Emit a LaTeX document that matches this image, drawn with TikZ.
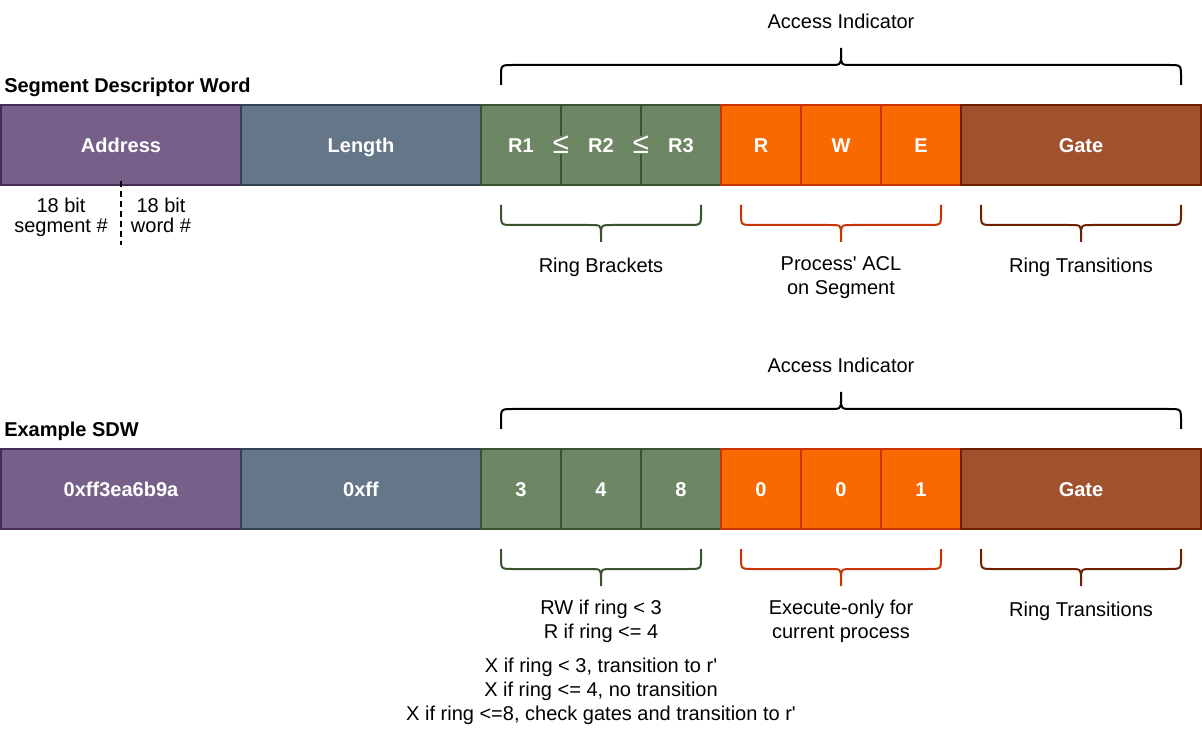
\documentclass[tikz,border=0pt]{standalone}
\usepackage{fontspec}
\setmainfont{Liberation Sans}
\usetikzlibrary{positioning}

\definecolor{addrfill}{HTML}{76608A}
\definecolor{addrline}{HTML}{432D57}
\definecolor{lenfill}{HTML}{647687}
\definecolor{lenline}{HTML}{314354}
\definecolor{ringfill}{HTML}{6D8764}
\definecolor{ringline}{HTML}{3A5431}
\definecolor{aclfill}{HTML}{FA6800}
\definecolor{aclline}{HTML}{C73500}
\definecolor{gatefill}{HTML}{A0522D}
\definecolor{gateline}{HTML}{6D1F00}

\begin{document}
\begin{tikzpicture}[x=0.75pt, y=-0.75pt, node distance=0pt]
    \tikzstyle{field} = [rectangle, draw, line width=1.5pt, minimum height=60pt, outer sep=0pt, inner sep=0pt, text height=10.8pt, text depth=0pt, text=white, font=\fontsize{15}{18}\selectfont\bfseries]
    \tikzstyle{wide} = [field, minimum width=180pt]
    \tikzstyle{narrow} = [field, minimum width=60pt]
    \tikzstyle{addr} = [wide, fill=addrfill, draw=addrline]
    \tikzstyle{len} = [wide, fill=lenfill, draw=lenline]
    \tikzstyle{ring} = [narrow, fill=ringfill, draw=ringline]
    \tikzstyle{acl} = [narrow, fill=aclfill, draw=aclline]
    \tikzstyle{gate} = [wide, fill=gatefill, draw=gateline]
    \tikzstyle{title} = [anchor=west, inner sep=0pt, font=\fontsize{15}{18}\selectfont\bfseries]
    \tikzstyle{label} = [anchor=north, inner sep=0pt, align=center, font=\fontsize{15}{18}\selectfont]
    \tikzstyle{small_label} = [anchor=north, inner sep=0pt, align=center, font=\fontsize{15}{15}\selectfont]
    \tikzstyle{leq} = [inner sep=0.5pt, fill=ringfill, text=white, font=\fontsize{22}{22}\selectfont]
    \tikzstyle{bracket} = [line width=1.5pt]
    \tikzstyle{split_line} = [draw, line width=1.5pt, dash pattern=on 4.5pt off 3pt]

    \useasboundingbox (0,0) rectangle (1202,730);

    % segment descriptor word
    \node [title] (sdwtitle) at (4,87) {Segment Descriptor Word};
    \node [addr] (addr) at (121,145) {Address};
    \node [len, right=of addr] (len) {Length};
    \node [ring, right=of len] (r1) {R1};
    \node [ring, right=of r1] (r2) {R2};
    \node [ring, right=of r2] (r3) {R3};
    \node [acl, right=of r3] (read) {R};
    \node [acl, right=of read] (write) {W};
    \node [acl, right=of write] (exec) {E};
    \node [gate, right=of exec] (gate) {Gate};
    \node [leq] (leq1) at (r1.east) {≤};
    \node [leq] (leq2) at (r2.east) {≤};

    \coordinate (splittop) at (121,181);
    \coordinate (splitbot) at (121,245);
    \path [split_line] (splittop) -- (splitbot);
    \node [small_label] (segbits) at (61,198) {18 bit\\segment \#};
    \node [small_label] (wordbits) at (161,198) {18 bit\\word \#};

    \node [label] (access) at (841,14) {Access Indicator};
    \node [label] (brackets) at (601,258) {Ring Brackets};
    \node [label] (acl_lbl) at (841,256) {Process\textquotesingle{} ACL\\on Segment};
    \node [label] (trans) at (1081,258) {Ring Transitions};

    % example SDW
    \node [title] (extitle) at (4,431) {Example SDW};
    \node [addr] (addr2) at (121,489) {0xff3ea6b9a};
    \node [len, right=of addr2] (len2) {0xff};
    \node [ring, right=of len2] (r1b) {3};
    \node [ring, right=of r1b] (r2b) {4};
    \node [ring, right=of r2b] (r3b) {8};
    \node [acl, right=of r3b] (readb) {0};
    \node [acl, right=of readb] (writeb) {0};
    \node [acl, right=of writeb] (execb) {1};
    \node [gate, right=of execb] (gateb) {Gate};

    \node [label] (access2) at (841,358) {Access Indicator};
    \node [label] (brackets2) at (601,600) {RW if ring < 3\\R if ring <= 4};
    \node [label] (acl_lbl2) at (841,600) {Execute-only for\\current process};
    \node [label] (trans2) at (1081,602) {Ring Transitions};
    \node [label] (gates2) at (601,658) {X if ring < 3, transition to r\textquotesingle\\X if ring <= 4, no transition\\X if ring <=8, check gates and transition to r\textquotesingle};

    % braces
    \foreach \xa/\xb/\ye/\sg/\col in {501/1181/85/1/black, 501/701/205/-1/ringline, 741/941/205/-1/aclline, 981/1181/205/-1/gateline, 501/1181/429/1/black, 501/701/549/-1/ringline, 741/941/549/-1/aclline, 981/1181/549/-1/gateline}
    {
        \pgfmathsetmacro\xm{(\xa+\xb)/2}
        \draw [bracket, draw=\col] (\xa,\ye) -- ({\xa},{\ye-\sg*8}) .. controls ({\xa},{\ye-\sg*20}) .. ({\xa+12},{\ye-\sg*20}) -- ({\xm-12},{\ye-\sg*20}) .. controls ({\xm},{\ye-\sg*20}) .. ({\xm},{\ye-\sg*30}) -- ({\xm},{\ye-\sg*37});
        \draw [bracket, draw=\col] ({\xm},{\ye-\sg*30}) .. controls ({\xm},{\ye-\sg*20}) .. ({\xm+12},{\ye-\sg*20}) -- ({\xb-12},{\ye-\sg*20}) .. controls ({\xb},{\ye-\sg*20}) .. ({\xb},{\ye-\sg*8}) -- (\xb,\ye);
    }
\end{tikzpicture}
\end{document}
